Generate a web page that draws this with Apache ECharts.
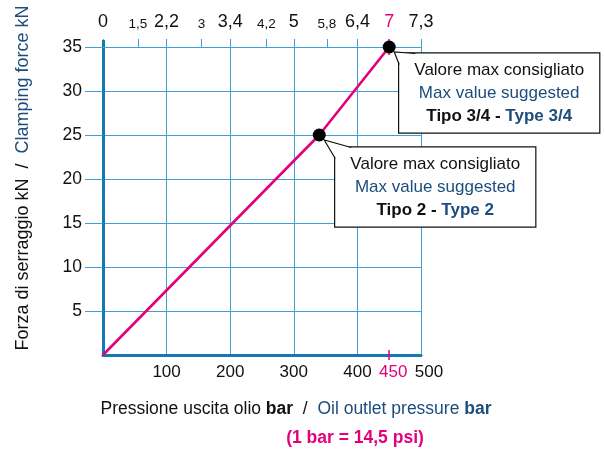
<!DOCTYPE html>
<html>
<head>
<meta charset="utf-8">
<script src="https://cdn.jsdelivr.net/npm/echarts@6/dist/echarts.min.js"></script>
<style>
  html, body { margin: 0; padding: 0; background: #fff; }
  #chart { width: 605px; height: 452px; }
</style>
</head>
<body>
<div id="chart"></div>
<script>
// Clamping force against oil outlet pressure
const pressureBar = [0, 340, 450];
const clampingKN = [0, 25, 35];

// suggested maximum for each cylinder type
const maxPressure = [340, 450];
const maxForce = [25, 35];
const maxTypeIt = ['Tipo 2', 'Tipo 3/4'];
const maxTypeEn = ['Type 2', 'Type 3/4'];

// axis ticks
const bottomTicks = [100, 200, 300, 400, 450, 500];
const forceTicks = [5, 10, 15, 20, 25, 30, 35];
const highlightBar = 450;

// upper scale, placed at the matching bar positions
const topTickPos = [0, 55, 100, 155, 200, 257, 300, 352, 400, 450, 500];
const topTickText = ['0', '1,5', '2,2', '3', '3,4', '4,2', '5', '5,8', '6,4', '7', '7,3'];
const topMinorText = ['1,5', '3', '4,2', '5,8'];

const GRID = '#3f9fd6';
const AXIS = '#1479b4';
const PINK = '#e4007c';
const NAVY = '#1d4c7d';
const INK = '#111111';
const FONT = "'Liberation Sans', Arial, sans-serif";

const chart = echarts.init(document.getElementById('chart'), null, { renderer: 'canvas' });

const linePoints = pressureBar.map((p, i) => [p, clampingKN[i]]);
const maxPoints = maxPressure.map((p, i) => [p, maxForce[i]]);

// callout boxes: offset of box centre from the point, box size
const calloutOffset = [[116, 52], [110, 46]];
const BOX_W = 200, BOX_H = 79;

const numStyle = { fontFamily: FONT, fontSize: 17, color: INK };

const option = {
  animation: false,
  backgroundColor: '#ffffff',
  grid: { left: 103, right: 184, top: 47, bottom: 92 },
  xAxis: [
    {
      type: 'value', position: 'bottom', min: 0, max: 500, interval: 100,
      axisLine: { show: true, onZero: false, lineStyle: { color: AXIS, width: 3 } },
      axisTick: { show: false },
      splitLine: { show: true, lineStyle: { color: GRID, width: 1 } },
      axisLabel: {
        customValues: bottomTicks, margin: 9,
        formatter: v => (v === highlightBar ? '{p|' + v + '}' : v === 500 ? '{e|' + v + '}' : '{n|' + v + '}'),
        rich: {
          n: numStyle,
          p: Object.assign({}, numStyle, { color: PINK, padding: [0, 0, 0, 8] }),
          e: Object.assign({}, numStyle, { padding: [0, 0, 0, 16] })
        }
      },
      name: '{a|Pressione uscita olio }{b|bar}{a|  /  }{c|Oil outlet pressure }{d|bar}\n{p|(1 bar = 14,5 psi)}',
      nameLocation: 'middle', nameGap: 42,
      nameTextStyle: {
        padding: [0, 0, 0, 68],
        rich: {
          a: { fontFamily: FONT, fontSize: 17.5, color: INK, lineHeight: 24 },
          b: { fontFamily: FONT, fontSize: 17.5, color: INK, fontWeight: 'bold', lineHeight: 24 },
          c: { fontFamily: FONT, fontSize: 17.5, color: NAVY, lineHeight: 24 },
          d: { fontFamily: FONT, fontSize: 17.5, color: NAVY, fontWeight: 'bold', lineHeight: 24 },
          p: { fontFamily: FONT, fontSize: 17.5, color: PINK, fontWeight: 'bold', lineHeight: 34, padding: [0, 0, 0, 118] }
        }
      }
    },
    {
      type: 'value', position: 'top', min: 0, max: 500,
      axisLine: { show: true, onZero: false, lineStyle: { color: GRID, width: 1 } },
      axisTick: { show: true, customValues: topTickPos.filter(v => v !== highlightBar), length: 8, lineStyle: { color: GRID, width: 1 } },
      splitLine: { show: false },
      axisLabel: {
        customValues: topTickPos, margin: 16, verticalAlign: 'bottom',
        formatter: v => {
          const t = topTickText[topTickPos.indexOf(v)];
          if (v === highlightBar) return '{p|' + t + '}';
          return topMinorText.includes(t) ? '{m|' + t + '}' : '{n|' + t + '}';
        },
        rich: {
          n: Object.assign({}, numStyle, { fontSize: 18, verticalAlign: 'bottom' }),
          m: Object.assign({}, numStyle, { fontSize: 13.5, verticalAlign: 'bottom' }),
          p: Object.assign({}, numStyle, { fontSize: 18, color: PINK, verticalAlign: 'bottom' })
        }
      }
    },
    {
      // highlight tick on the bar scale
      type: 'value', position: 'bottom', min: 0, max: 500, offset: -5,
      axisLine: { show: false }, splitLine: { show: false }, axisLabel: { show: false },
      axisTick: { show: true, customValues: [highlightBar], length: 10, lineStyle: { color: PINK, width: 1.5 } }
    },
    {
      // highlight tick on the upper scale
      type: 'value', position: 'top', min: 0, max: 500, offset: -8,
      axisLine: { show: false }, splitLine: { show: false }, axisLabel: { show: false },
      axisTick: { show: true, customValues: [highlightBar], length: 16, lineStyle: { color: PINK, width: 1.5 } }
    },
    {
      // upward continuation of the force axis
      type: 'value', position: 'top', min: 0, max: 500, offset: 0,
      axisLine: { show: false }, splitLine: { show: false }, axisLabel: { show: false },
      axisTick: { show: true, customValues: [0], length: 7, lineStyle: { color: AXIS, width: 3 } }
    }
  ],
  yAxis: {
    type: 'value', min: 0, max: 35, interval: 5,
    axisLine: { show: true, onZero: false, lineStyle: { color: AXIS, width: 3 } },
    axisTick: { show: true, customValues: forceTicks, length: 18, lineStyle: { color: GRID, width: 1 } },
    splitLine: { show: true, lineStyle: { color: GRID, width: 1 } },
    axisLabel: { customValues: forceTicks, margin: 21, fontFamily: FONT, fontSize: 17.5, color: INK },
    name: '{a|Forza di serraggio kN  /  }{b|Clamping force kN}',
    nameLocation: 'middle', nameGap: 71,
    nameTextStyle: {
      padding: [0, 0, 0, 46],
      rich: {
        a: { fontFamily: FONT, fontSize: 18, color: INK },
        b: { fontFamily: FONT, fontSize: 18, color: NAVY }
      }
    }
  },
  series: [
    {
      type: 'line', data: linePoints, symbol: 'none', z: 3,
      emphasis: { disabled: true },
      lineStyle: { color: PINK, width: 2.6 }
    },
    {
      // callout boxes
      type: 'scatter', z: 2, symbolSize: 0,
      itemStyle: { color: '#ffffff', opacity: 1 },
      emphasis: { disabled: true },
      data: maxPoints.map((p, i) => ({
        value: p,
        label: { offset: calloutOffset[i] }
      })),
      label: {
        show: true, position: 'inside', align: 'center', verticalAlign: 'middle',
        width: BOX_W - 24, padding: [5, 12], opacity: 1,
        backgroundColor: '#ffffff', borderColor: INK, borderWidth: 1.2,
        formatter: p => '{it|Valore max consigliato}\n{en|Max value suggested}\n{itb|' +
          maxTypeIt[p.dataIndex] + ' - }{enb|' + maxTypeEn[p.dataIndex] + '}',
        rich: {
          it: { fontFamily: FONT, fontSize: 17, color: INK, lineHeight: 23 },
          en: { fontFamily: FONT, fontSize: 17, color: NAVY, lineHeight: 23 },
          itb: { fontFamily: FONT, fontSize: 17, color: INK, fontWeight: 'bold', lineHeight: 23 },
          enb: { fontFamily: FONT, fontSize: 17, color: NAVY, fontWeight: 'bold', lineHeight: 23 }
        }
      }
    },
    {
      type: 'scatter', z: 20, symbolSize: 13, data: maxPoints,
      emphasis: { disabled: true },
      itemStyle: { color: '#000000', opacity: 1 }
    }
  ]
};

chart.setOption(option);

// callout tails from each point to the corner of its box
const tails = [];
maxPoints.forEach((pt, i) => {
  const c = chart.convertToPixel({ xAxisIndex: 0, yAxisIndex: 0 }, pt);
  const bx = c[0] + calloutOffset[i][0] - BOX_W / 2;
  const by = c[1] + calloutOffset[i][1] - BOX_H / 2;
  const tip = [c[0] + 5, c[1] + 5];
  const b1 = [bx + 16, by];
  const b2 = [bx, by + 11];
  tails.push({
    type: 'polygon', z: 10, silent: true,
    shape: { points: [tip, b1, [bx + 2, by + 2], b2] },
    style: { fill: '#ffffff', stroke: null }
  });
  tails.push({
    type: 'polyline', z: 11, silent: true,
    shape: { points: [b1, tip, b2] },
    style: { stroke: INK, lineWidth: 1.2, fill: null }
  });
});
chart.setOption({ graphic: tails });
</script>
</body>
</html>
